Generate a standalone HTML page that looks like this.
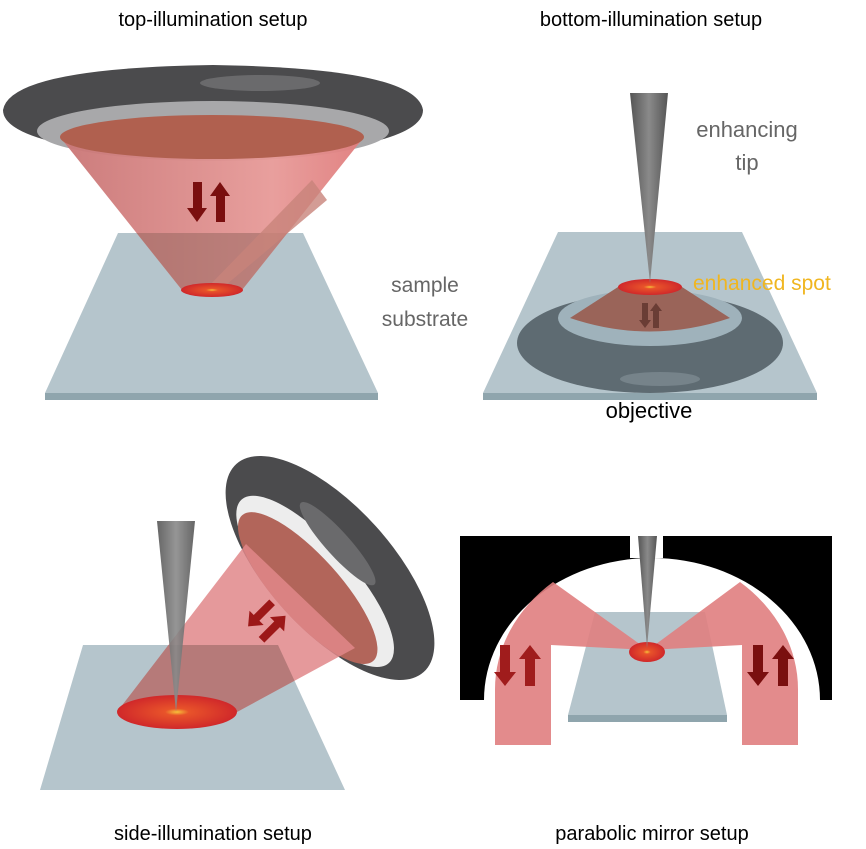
<!DOCTYPE html>
<html><head><meta charset="utf-8"><style>
html,body{margin:0;padding:0;background:#fff;}
svg{display:block;}
text{font-family:"Liberation Sans","DejaVu Sans",sans-serif;}
</style></head><body>
<svg width="866" height="849" viewBox="0 0 866 849" xmlns="http://www.w3.org/2000/svg">
<defs>
<radialGradient id="spot" cx="50%" cy="50%" r="50%">
<stop offset="0" stop-color="#f7c23a"/><stop offset="0.2" stop-color="#e8532a"/><stop offset="1" stop-color="#d0282a"/></radialGradient>
<linearGradient id="tipg" x1="0" x2="1"><stop offset="0" stop-color="#555"/><stop offset="0.5" stop-color="#8a8a8a"/><stop offset="1" stop-color="#555"/></linearGradient>
<linearGradient id="cone1" x1="0" x2="1"><stop offset="0" stop-color="#c97575"/><stop offset="0.7" stop-color="#e79a98"/><stop offset="1" stop-color="#e07c7c"/></linearGradient>
<clipPath id="sub1"><polygon points="118,233 303,233 378,393 45,393"/></clipPath>
<clipPath id="sub3"><polygon points="83,645 278,645 345,790 40,790"/></clipPath>
</defs>

<!-- Titles -->
<text x="213" y="26" font-size="20" text-anchor="middle" fill="#000">top-illumination setup</text>
<text x="651" y="26" font-size="20" text-anchor="middle" fill="#000">bottom-illumination setup</text>
<text x="213" y="840" font-size="20" text-anchor="middle" fill="#000">side-illumination setup</text>
<text x="652" y="840" font-size="20" text-anchor="middle" fill="#000">parabolic mirror setup</text>

<!-- PANEL 1 -->
<polygon points="118,233 303,233 378,393 45,393" fill="#b5c5cc"/>
<polygon points="45,393 378,393 378,400 45,400" fill="#8fa5ad"/>
<path d="M3,110 Q10,68 213,65 Q416,68 423,110 Q423,150 213,160 Q3,150 3,110 Z" fill="#4b4b4d"/>
<ellipse cx="260" cy="83" rx="60" ry="8" fill="#6a6a6c"/>
<ellipse cx="213" cy="131" rx="176" ry="30" fill="#a8a8aa"/>
<polygon points="60,137 364,137 242,290 182,290" fill="url(#cone1)" opacity="0.95"/>
<ellipse cx="212" cy="137" rx="152" ry="22" fill="#b0604f"/>
<polygon points="60,137 364,137 242,290 182,290" fill="#9a6a62" opacity="0.55" clip-path="url(#sub1)"/>
<polygon points="205,290 220,290 327,200 312,180" fill="#c8837a" opacity="0.8"/>
<ellipse cx="212" cy="290" rx="31" ry="7" fill="url(#spot)"/>
<polygon points="193,182 202,182 202,208 207,208 197,222 187,208 193,208" fill="#7a0f0f"/>
<polygon points="216,222 225,222 225,196 230,196 220,182 210,196 216,196" fill="#7a0f0f"/>
<text x="425" y="292" font-size="21" text-anchor="middle" fill="#666">sample</text>
<text x="425" y="326" font-size="21" text-anchor="middle" fill="#666">substrate</text>

<!-- PANEL 2 -->
<polygon points="558,232 742,232 817,393 483,393" fill="#b5c5cc"/>
<polygon points="483,393 817,393 817,400 483,400" fill="#8fa5ad"/>
<ellipse cx="650" cy="343" rx="133" ry="50" fill="#5e6b72"/>
<ellipse cx="660" cy="379" rx="40" ry="7" fill="#76838a"/>
<ellipse cx="650" cy="318" rx="92" ry="28" fill="#9fb2bb"/>
<path d="M618,287 L682,287 L730,318 Q650,345 570,318 Z" fill="#9a6459"/>
<ellipse cx="650" cy="287" rx="32" ry="8" fill="url(#spot)"/>
<polygon points="642,303 648,303 648,320 651,320 645,328 639,320 642,320" fill="#6a3d35"/>
<polygon points="653,328 659,328 659,311 662,311 656,303 650,311 653,311" fill="#6a3d35"/>
<polygon points="630,93 668,93 650,283" fill="url(#tipg)"/>
<text x="747" y="137" font-size="22" text-anchor="middle" fill="#666">enhancing</text>
<text x="747" y="170" font-size="22" text-anchor="middle" fill="#666">tip</text>
<text x="693" y="290" font-size="21" fill="#f0b620">enhanced spot</text>
<text x="649" y="418" font-size="22" text-anchor="middle" fill="#000">objective</text>

<!-- PANEL 3 -->
<polygon points="83,645 278,645 345,790 40,790" fill="#b5c5cc"/>
<g transform="rotate(-42 330 568)">
<ellipse cx="330" cy="568" rx="62" ry="140" fill="#4b4b4d"/>
<ellipse cx="310" cy="568" rx="38" ry="110" fill="#ededed"/>
<ellipse cx="300" cy="568" rx="32" ry="98" fill="#b2655a"/>
<ellipse cx="352" cy="555" rx="12" ry="55" fill="#6a6a6c"/>
</g>
<polygon points="117,712 237,712 355,648 246,544" fill="#e0878a" opacity="0.85"/>
<polygon points="117,712 237,712 355,648 246,544" fill="#8a6058" opacity="0.45" clip-path="url(#sub3)"/>
<ellipse cx="177" cy="712" rx="60" ry="17" fill="url(#spot)"/>
<polygon points="157,521 195,521 176,712" fill="url(#tipg)" opacity="0.9"/>
<g transform="rotate(-45 270 620)">
<polygon points="250,612 272,612 272,606 284,616 272,626 272,620 250,620" fill="#9c1818" transform="translate(0,-7) rotate(180 267 616)"/>
<polygon points="250,622 272,622 272,616 284,626 272,636 272,630 250,630" fill="#9c1818" transform="translate(0,2)"/>
</g>

<!-- PANEL 4 -->
<path d="M460,536 L630,536 L630,558 L663,558 L663,536 L832,536 L832,700 L820,700 A168,142 0 0 0 484,700 L460,700 Z" fill="#000"/>
<polygon points="595,612 705,612 727,715 568,715" fill="#b5c5cc"/>
<polygon points="568,715 727,715 727,722 568,722" fill="#8fa5ad"/>
<path d="M495,745 L495,690 A168,142 0 0 1 553,582 L648,650 L551,645 L551,745 Z" fill="#e07e80" opacity="0.9"/>
<path d="M798,745 L798,690 A168,142 0 0 0 740,582 L648,650 L742,645 L742,745 Z" fill="#e07e80" opacity="0.9"/>
<ellipse cx="647" cy="652" rx="18" ry="10" fill="url(#spot)"/>
<polygon points="638,536 657,536 647,648" fill="url(#tipg)"/>
<polygon points="500,645 510,645 510,672 516,672 505,686 494,672 500,672" fill="#a01c1c"/>
<polygon points="525,686 535,686 535,659 541,659 530,645 519,659 525,659" fill="#a01c1c"/>
<polygon points="753,645 763,645 763,672 769,672 758,686 747,672 753,672" fill="#7a0f0f"/>
<polygon points="778,686 788,686 788,659 794,659 783,645 772,659 778,659" fill="#7a0f0f"/>
</svg>
</body></html>
